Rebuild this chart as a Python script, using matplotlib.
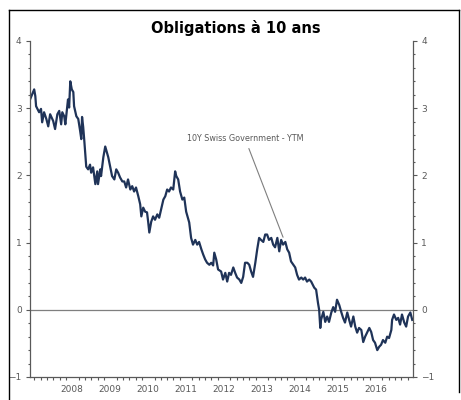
import numpy as np
import matplotlib
matplotlib.use("Agg")
import matplotlib.pyplot as plt
from matplotlib.lines import Line2D

# Swiss 10Y government yield (decimal years, %)
years = [
    2007.37, 2007.50, 2007.53, 2007.55, 2007.63, 2007.68, 2007.71, 2007.76, 2007.82, 2007.87,
    2007.92, 2008.00, 2008.05, 2008.11, 2008.16, 2008.21, 2008.24, 2008.29, 2008.32, 2008.37,
    2008.39, 2008.42, 2008.45, 2008.49, 2008.53, 2008.55, 2008.61, 2008.66, 2008.71, 2008.74,
    2008.76, 2008.79, 2008.82, 2008.87, 2008.92, 2008.97, 2009.00, 2009.05, 2009.11, 2009.16,
    2009.18, 2009.24, 2009.26, 2009.32, 2009.37, 2009.39, 2009.45, 2009.50, 2009.55, 2009.61,
    2009.66, 2009.71, 2009.76, 2009.82, 2009.87, 2009.92, 2009.97, 2010.03, 2010.08, 2010.13,
    2010.18, 2010.24, 2010.29, 2010.32, 2010.37, 2010.42, 2010.47, 2010.50, 2010.53, 2010.58,
    2010.63, 2010.68, 2010.74, 2010.79, 2010.84, 2010.90, 2010.95, 2011.00, 2011.05, 2011.10,
    2011.16, 2011.21, 2011.24, 2011.29, 2011.34, 2011.40, 2011.45, 2011.50, 2011.58, 2011.63,
    2011.68, 2011.74, 2011.79, 2011.84, 2011.90, 2011.95, 2012.00, 2012.05, 2012.11, 2012.16,
    2012.21, 2012.24, 2012.29, 2012.34, 2012.42, 2012.47, 2012.53, 2012.58, 2012.63, 2012.68,
    2012.74, 2012.79, 2012.84, 2012.90, 2012.95, 2013.00, 2013.05, 2013.11, 2013.16, 2013.21,
    2013.26, 2013.32, 2013.37, 2013.42, 2013.47, 2013.53, 2013.58, 2013.63, 2013.68, 2013.74,
    2013.79, 2013.84, 2013.90, 2013.95, 2014.00, 2014.05, 2014.11, 2014.16, 2014.21, 2014.26,
    2014.32, 2014.37, 2014.42, 2014.47, 2014.53, 2014.58, 2014.63, 2014.68, 2014.74, 2014.79,
    2014.87, 2014.92, 2014.97, 2015.00, 2015.03, 2015.05, 2015.11, 2015.16, 2015.21, 2015.26,
    2015.32, 2015.37, 2015.42, 2015.47, 2015.53, 2015.58, 2015.63, 2015.68, 2015.74, 2015.79,
    2015.84, 2015.90, 2015.95, 2016.00, 2016.05, 2016.11, 2016.16, 2016.21, 2016.26, 2016.32,
    2016.37, 2016.42, 2016.47, 2016.53, 2016.58, 2016.63, 2016.68, 2016.74, 2016.79, 2016.84,
    2016.90, 2016.92, 2016.97, 2017.03, 2017.08, 2017.13, 2017.18, 2017.24, 2017.29, 2017.34,
    2017.40, 2017.45,
]
ytm = [
    3.10, 3.28, 3.18, 3.03, 2.94, 2.99, 2.79, 2.94, 2.84, 2.73,
    2.91, 2.81, 2.69, 2.91, 2.96, 2.76, 2.94, 2.88, 2.76, 3.03,
    3.13, 3.01, 3.40, 3.28, 3.24, 3.03, 2.88, 2.84, 2.66, 2.54,
    2.87, 2.72, 2.51, 2.13, 2.09, 2.16, 2.04, 2.12, 1.87, 2.06,
    1.87, 2.09, 1.99, 2.27, 2.43, 2.39, 2.27, 2.13, 1.99, 1.94,
    2.09, 2.04, 1.97, 1.91, 1.91, 1.82, 1.94, 1.79, 1.84, 1.76,
    1.82, 1.69, 1.57, 1.39, 1.52, 1.46, 1.45, 1.31, 1.15, 1.31,
    1.39, 1.34, 1.42, 1.37, 1.49, 1.64, 1.69, 1.79, 1.76, 1.82,
    1.79, 2.06, 1.99, 1.94, 1.76, 1.64, 1.67, 1.46, 1.30, 1.07,
    0.97, 1.04, 0.97, 1.01, 0.90, 0.82, 0.75, 0.70, 0.67, 0.70,
    0.66, 0.85, 0.75, 0.60, 0.57, 0.45, 0.55, 0.42, 0.55, 0.52,
    0.63, 0.55, 0.48, 0.45, 0.40, 0.49, 0.70, 0.70, 0.67, 0.57,
    0.49, 0.70, 0.90, 1.07, 1.04, 1.01, 1.12, 1.12, 1.04, 1.07,
    0.97, 0.93, 1.07, 0.87, 1.04, 0.97, 1.01, 0.90, 0.85, 0.72,
    0.67, 0.63, 0.52, 0.45, 0.48, 0.45, 0.48, 0.42, 0.45, 0.42,
    0.33, 0.30, 0.10, 0.00, -0.27, -0.15, -0.03, -0.18, -0.10, -0.18,
    -0.04, 0.04, -0.03, 0.15, 0.07, -0.03, -0.12, -0.19, -0.04, -0.15,
    -0.25, -0.10, -0.25, -0.34, -0.27, -0.30, -0.48, -0.40, -0.34, -0.27,
    -0.33, -0.45, -0.49, -0.60, -0.55, -0.52, -0.45, -0.49, -0.40, -0.42,
    -0.30, -0.15, -0.07, -0.15, -0.12, -0.22, -0.07, -0.19, -0.25, -0.10,
    -0.04, -0.15,
]
year_labels = list(range(2008, 2017))
title = "Obligations à 10 ans"
series_label = "10Y Swiss Government - YTM"

GREY = "#595959"
NARROW = ["Liberation Sans Narrow", "DejaVu Sans"]

fig = plt.figure(figsize=(4.61, 4.0), dpi=100)
ax = fig.add_axes([30 / 461, 1 - 377 / 400, 383 / 461, 336 / 400])

ax.plot(years, ytm, color="#1f3358", lw=1.6, solid_joinstyle="round")
ax.axhline(0, color="#7f7f7f", lw=0.9, zorder=0)

ax.set_xlim(2007.39, 2017.47)
ax.set_ylim(-1, 4)

ax.spines["top"].set_visible(False)
for side in ["left", "right", "bottom"]:
    ax.spines[side].set_color(GREY)
    ax.spines[side].set_linewidth(0.9)

# x axis: labels in the middle of each year, ticks every two months
ax.set_xticks([y + 0.5 for y in year_labels])
ax.set_xticklabels([str(y) for y in year_labels])
ax.set_xticks(np.arange(2007.5, 2017.5, 1 / 6), minor=True)
ax.tick_params(axis="x", which="major", length=0, pad=6, labelsize=6.5, labelcolor=GREY)
ax.tick_params(axis="x", which="minor", length=2.5, direction="out", color=GREY, width=0.8)

# y axis on both sides
ax.set_yticks(range(-1, 5))
ax.set_yticks(np.arange(-1, 4.01, 0.2), minor=True)
ax.tick_params(axis="y", which="both", left=True, right=True, labelleft=True, labelright=True,
               color=GREY, width=0.8, direction="out")
ax.tick_params(axis="y", which="major", length=3, labelsize=6.5, labelcolor=GREY, pad=3)
ax.tick_params(axis="y", which="minor", length=1.5)

for lab in ax.get_xticklabels() + ax.get_yticklabels():
    lab.set_family(NARROW)

ax.annotate(series_label, xy=(2014.05, 1.08), xytext=(2013.05, 2.48),
            ha="center", va="bottom", fontsize=5.8, color=GREY, family=NARROW,
            arrowprops=dict(arrowstyle="-", color="#7f7f7f", lw=0.8, shrinkA=2, shrinkB=0))

fig.text(236 / 461, 1 - 28 / 400, title, ha="center", va="center",
         fontsize=10.5, fontweight="bold", color="black")

# outer frame
frame_kw = dict(color="black", lw=1.0, transform=fig.transFigure)
fig.add_artist(Line2D([9 / 461, 9 / 461], [0, 1 - 10 / 400], **frame_kw))
fig.add_artist(Line2D([9 / 461, 459 / 461], [1 - 10 / 400, 1 - 10 / 400], **frame_kw))
fig.add_artist(Line2D([459 / 461, 459 / 461], [1 - 10 / 400, 0.02], **frame_kw))

fig.savefig("out.png", dpi=100)
